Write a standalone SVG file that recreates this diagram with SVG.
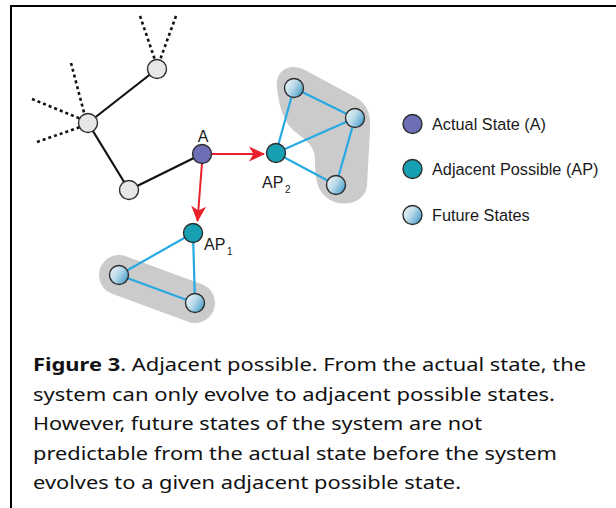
<svg xmlns="http://www.w3.org/2000/svg" width="616" height="508" viewBox="0 0 616 508">
<defs>
<linearGradient id="fut" x1="0" y1="0.2" x2="1" y2="0.8">
<stop offset="0" stop-color="#eef5f9"/>
<stop offset="0.45" stop-color="#b9d9e8"/>
<stop offset="1" stop-color="#3f9ccb"/>
</linearGradient>
<marker id="arr" viewBox="0 0 16 16" refX="15" refY="8" markerWidth="16" markerHeight="16" markerUnits="userSpaceOnUse" orient="auto">
<path d="M0,0.5 L16,8 L0,15.5 L4.5,8 Z" fill="#e8212b"/>
</marker>
<style>
.blk{stroke:#111;stroke-width:2.2;fill:none}
.dot{stroke:#111;stroke-width:2.6;fill:none;stroke-dasharray:3 3}
.blu{stroke:#27a9e1;stroke-width:2.2;fill:none}
.red{stroke:#e8212b;stroke-width:2;fill:none}
.blob{fill:#cbcbcb}
.n{stroke:#2e2e2e;stroke-width:1.4}
.g{fill:#e7e7e7}
.a{fill:#6c6fb6}
.ap{fill:#16a0b2}
.f{fill:url(#fut)}
.lbl{font-family:"Liberation Sans",Arial,sans-serif;font-size:16px;fill:#1a1a1a}
.sub{font-family:"Liberation Sans",Arial,sans-serif;font-size:10px;fill:#1a1a1a}
.leg{font-family:"Liberation Sans",Arial,sans-serif;font-size:16.3px;fill:#1a1a1a}
.cap{font-family:"Noto Sans","Open Sans",sans-serif;font-size:18.5px;fill:#111}
</style>
</defs>
<rect width="616" height="508" fill="#fff"/>
<path d="M11,508 V6 H616" stroke="#000" stroke-width="2" fill="none"/>
<g id="blobs">
<path class="blob" d="M277,87 C275,70 290,62 305,70 L355,97 C368,104 371,115 370,130 L367,186 C365,204 340,209 326,197 C316,189 315,175 315,160 C315,145 305,140 293,130 C282,120 278,100 277,87 Z"/>
<rect class="blob" x="96.5" y="269" width="121" height="40" rx="20" transform="rotate(20.2 157 289)"/>
</g>
<g id="connectors">
<line class="dot" x1="140" y1="16" x2="155" y2="60"/>
<line class="dot" x1="176" y1="16" x2="160" y2="60"/>
<line class="dot" x1="71" y1="63" x2="86" y2="120"/>
<line class="dot" x1="32" y1="99" x2="86" y2="121"/>
<line class="dot" x1="37" y1="142" x2="86" y2="125"/>
<line class="blk" x1="157" y1="69" x2="88" y2="123"/>
<line class="blk" x1="88" y1="123" x2="129" y2="190"/>
<line class="blk" x1="129" y1="190" x2="202" y2="154"/>
<line class="red" x1="211" y1="154" x2="264" y2="154" marker-end="url(#arr)"/>
<line class="red" x1="202" y1="163" x2="197.5" y2="221" marker-end="url(#arr)"/>
<line class="blu" x1="276" y1="153" x2="294" y2="88"/>
<line class="blu" x1="294" y1="88" x2="355" y2="118"/>
<line class="blu" x1="276" y1="153" x2="355" y2="118"/>
<line class="blu" x1="355" y1="118" x2="336" y2="185"/>
<line class="blu" x1="276" y1="153" x2="336" y2="185"/>
<line class="blu" x1="193" y1="233" x2="119" y2="275"/>
<line class="blu" x1="193" y1="233" x2="195" y2="303"/>
<line class="blu" x1="119" y1="275" x2="195" y2="303"/>
</g>
<g id="n-top"><circle class="n g" cx="157" cy="69" r="9.5"/></g>
<g id="n-hub"><circle class="n g" cx="88" cy="123" r="9.5"/></g>
<g id="n-bottom"><circle class="n g" cx="129" cy="190" r="9.5"/></g>
<g id="n-A"><circle class="n a" cx="202" cy="154" r="9.5"/><text class="lbl" x="203" y="142" text-anchor="middle">A</text></g>
<g id="n-AP2"><circle class="n ap" cx="276" cy="153" r="9.5"/><text class="lbl" x="262" y="188">AP</text><text class="sub" x="285" y="193">2</text></g>
<g id="n-AP1"><circle class="n ap" cx="193" cy="233" r="9.5"/><text class="lbl" x="204" y="250">AP</text><text class="sub" x="227" y="255">1</text></g>
<g id="n-F1"><circle class="n f" cx="294" cy="88" r="9.5"/></g>
<g id="n-F2"><circle class="n f" cx="355" cy="118" r="9.5"/></g>
<g id="n-F3"><circle class="n f" cx="336" cy="185" r="9.5"/></g>
<g id="n-F4"><circle class="n f" cx="119" cy="275" r="9.5"/></g>
<g id="n-F5"><circle class="n f" cx="195" cy="303" r="9.5"/></g>
<g id="legend">
<circle class="n a" cx="412.5" cy="124" r="9.5"/>
<text class="leg" x="432" y="129.5">Actual State (A)</text>
<circle class="n ap" cx="412.5" cy="169" r="9.5"/>
<text class="leg" x="432" y="174.5">Adjacent Possible (AP)</text>
<circle class="n f" cx="412.5" cy="215" r="9.5"/>
<text class="leg" x="432" y="220.5">Future States</text>
</g>
<g id="caption">
<text class="cap" x="33" y="371" textLength="553" lengthAdjust="spacingAndGlyphs"><tspan font-weight="bold">Figure 3</tspan>. Adjacent possible. From the actual state, the</text>
<text class="cap" x="33" y="400.5" textLength="522" lengthAdjust="spacingAndGlyphs">system can only evolve to adjacent possible states.</text>
<text class="cap" x="33" y="430" textLength="449" lengthAdjust="spacingAndGlyphs">However, future states of the system are not</text>
<text class="cap" x="33" y="459.5" textLength="524" lengthAdjust="spacingAndGlyphs">predictable from the actual state before the system</text>
<text class="cap" x="33" y="489" textLength="428" lengthAdjust="spacingAndGlyphs">evolves to a given adjacent possible state.</text>
</g>
</svg>
